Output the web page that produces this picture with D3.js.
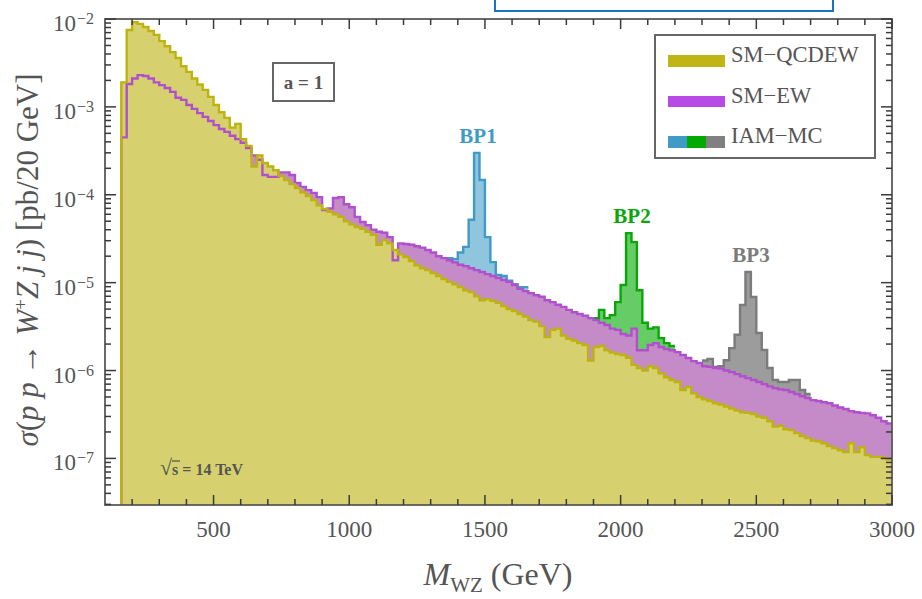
<!DOCTYPE html>
<html>
<head>
<meta charset="utf-8">
<script src="https://cdn.jsdelivr.net/npm/d3@7"></script>
<style>
  body { margin: 0; background: #fff; }
  svg { display: block; }
  text { font-family: "Liberation Serif", "DejaVu Serif", serif; fill: #555; }
</style>
</head>
<body>
<svg id="chart" width="922" height="599"></svg>
<script>
'use strict';

// histogram bins: 20 GeV wide, first bin starts at 160 GeV
var binStart = 160, binWidth = 20;

// SM-QCDEW (pb / 20 GeV), one value per bin, 160 -> 3000 GeV
var smQcdew = [
  1.9e-3, 7.5e-3, 9.2e-3, 8.8e-3, 8.1e-3, 7.3e-3, 6.6e-3, 5.6e-3, 4.9e-3, 4.2e-3,
  3.6e-3, 2.9e-3, 2.5e-3, 2.1e-3, 1.8e-3, 1.56e-3, 1.3e-3, 1.05e-3, 8.7e-4, 7.5e-4,
  5.8e-4, 6.4e-4, 4.3e-4, 3.6e-4, 2.1e-4, 2.8e-4, 2.3e-4, 2.1e-4, 1.9e-4, 1.63e-4,
  1.47e-4, 1.32e-4, 1.19e-4, 1.07e-4, 9.7e-5, 8.7e-5, 7.6e-5, 6.9e-5, 6.4e-5, 6.0e-5,
  5.6e-5, 5.0e-5, 4.6e-5, 4.3e-5, 4.1e-5, 3.8e-5, 3.5e-5, 2.7e-5, 3.05e-5, 2.8e-5,
  2.35e-5, 2.1e-5, 1.95e-5, 1.76e-5, 1.58e-5, 1.46e-5, 1.39e-5, 1.29e-5, 1.19e-5, 1.10e-5,
  1.02e-5, 9.6e-6, 8.9e-6, 8.2e-6, 7.8e-6, 7.0e-6, 6.3e-6, 6.5e-6, 6.2e-6, 5.9e-6,
  5.4e-6, 5.0e-6, 4.75e-6, 4.4e-6, 4.1e-6, 3.75e-6, 3.6e-6, 3.2e-6, 2.4e-6, 2.9e-6,
  3.0e-6, 2.5e-6, 2.3e-6, 2.2e-6, 2.05e-6, 1.95e-6, 1.3e-6, 1.85e-6, 1.9e-6, 1.7e-6,
  1.6e-6, 1.54e-6, 1.5e-6, 1.4e-6, 1.16e-6, 1.07e-6, 1.0e-6, 1.12e-6, 1.07e-6, 9.3e-7,
  8.4e-7, 7.8e-7, 7.4e-7, 6.0e-7, 6.5e-7, 5.5e-7, 5.0e-7, 4.7e-7, 4.5e-7, 4.25e-7,
  4.1e-7, 3.9e-7, 3.7e-7, 3.5e-7, 3.35e-7, 3.3e-7, 3.2e-7, 3.0e-7, 2.9e-7, 2.65e-7,
  2.3e-7, 2.35e-7, 2.15e-7, 2.1e-7, 1.94e-7, 1.8e-7, 1.7e-7, 1.6e-7, 1.57e-7, 1.49e-7,
  1.38e-7, 1.31e-7, 1.24e-7, 1.18e-7, 1.49e-7, 1.18e-7, 1.34e-7, 1.09e-7, 1.04e-7, 1.04e-7,
  1.01e-7, 9.8e-8
];

// SM-EW, same bins
var smEw = [
  4.5e-4, 1.82e-3, 2.1e-3, 2.3e-3, 2.25e-3, 2.1e-3, 1.9e-3, 1.77e-3, 1.64e-3, 1.48e-3,
  1.27e-3, 1.2e-3, 1.05e-3, 9.5e-4, 8.5e-4, 7.7e-4, 6.9e-4, 6.2e-4, 5.6e-4, 5.2e-4,
  4.7e-4, 4.3e-4, 3.9e-4, 3.4e-4, 2.8e-4, 2.5e-4, 1.68e-4, 1.6e-4, 1.6e-4, 1.8e-4,
  1.8e-4, 1.68e-4, 1.36e-4, 1.23e-4, 1.13e-4, 1.05e-4, 9.4e-5, 6.7e-5, 7.0e-5, 9.2e-5,
  9.4e-5, 7.8e-5, 7.2e-5, 5.6e-5, 4.9e-5, 4.5e-5, 4.0e-5, 3.8e-5, 3.7e-5, 3.3e-5,
  1.8e-5, 2.8e-5, 2.75e-5, 2.7e-5, 2.6e-5, 2.5e-5, 2.35e-5, 2.2e-5, 2.0e-5, 1.9e-5,
  1.8e-5, 1.7e-5, 1.6e-5, 1.54e-5, 1.46e-5, 1.39e-5, 1.32e-5, 1.25e-5, 1.19e-5, 1.13e-5,
  1.07e-5, 1.02e-5, 9.4e-6, 8.5e-6, 8.0e-6, 7.6e-6, 7.2e-6, 6.9e-6, 6.3e-6, 6.0e-6,
  5.6e-6, 5.3e-6, 4.9e-6, 4.6e-6, 4.4e-6, 4.2e-6, 3.95e-6, 3.75e-6, 3.5e-6, 3.3e-6,
  3.0e-6, 2.9e-6, 2.6e-6, 2.5e-6, 3.0e-6, 1.7e-6, 1.7e-6, 1.95e-6, 2.05e-6, 1.85e-6,
  1.76e-6, 1.7e-6, 1.62e-6, 1.5e-6, 1.39e-6, 1.28e-6, 1.22e-6, 1.12e-6, 1.1e-6, 1.07e-6,
  1.05e-6, 1.0e-6, 9.6e-7, 9.1e-7, 8.6e-7, 8.2e-7, 7.8e-7, 7.4e-7, 7.0e-7, 6.6e-7,
  6.3e-7, 6.1e-7, 6.0e-7, 5.7e-7, 5.4e-7, 5.1e-7, 4.85e-7, 4.6e-7, 4.5e-7, 4.35e-7,
  4.25e-7, 4.0e-7, 3.8e-7, 3.65e-7, 3.45e-7, 3.35e-7, 3.3e-7, 3.25e-7, 3.1e-7, 2.9e-7,
  2.65e-7, 2.5e-7
];

// IAM-MC benchmark points, around each resonance
var bp1Start = 1360;
var bp1 = [1.9e-5, 1.85e-5, 2.2e-5, 2.55e-5, 5.2e-5, 3.0e-4, 1.47e-4, 3.3e-5, 1.71e-5, 1.22e-5,
           1.19e-5, 1.05e-5, 9.6e-6, 8.9e-6, 8.9e-6];
var bp2Start = 1900;
var bp2 = [3.95e-6, 4.9e-6, 3.95e-6, 4.27e-6, 6.0e-6, 9.4e-6, 3.66e-5, 2.89e-5, 8.2e-6, 3.5e-6,
           3.0e-6, 3.1e-6, 2.34e-6, 2.05e-6, 1.9e-6];
var bp3Start = 2300;
var bp3 = [1.3e-6, 1.35e-6, 1.1e-6, 1.12e-6, 1.31e-6, 1.8e-6, 2.55e-6, 5.56e-6, 1.32e-5, 6.86e-6,
           2.67e-6, 1.71e-6, 1.07e-6, 7.8e-7, 7.4e-7, 7.4e-7, 7.8e-7, 7.8e-7, 6.0e-7, 5.4e-7];

var xTicks = [500, 1000, 1500, 2000, 2500, 3000];
var yTickExp = [-7, -6, -5, -4, -3, -2];
var legendLabels = ["SM\u2212QCDEW", "SM\u2212EW", "IAM\u2212MC"];
var peakLabels = ["BP1", "BP2", "BP3"];

var col = {
  yLine: "#bdb30f", yFill: "#d6d16e",
  pLine: "#b050cc", pFill: "#c58bc9",
  bLine: "#3f9bc6", bFill: "#8fc6de",
  gLine: "#0aa60a", gFill: "#66cc66",
  kLine: "#7b7b7b", kFill: "#9c9c9c"
};

var svg = d3.select('#chart');
var x = d3.scaleLinear().domain([100, 3000]).range([105, 892]);
var y = d3.scaleLog().domain([2.95e-8, 1e-2]).range([505, 19]);
var x0 = x.range()[0], x1 = x.range()[1], yB = y.range()[0], yT = y.range()[1];

function steps(start, vals) {
  var pts = [];
  vals.forEach(function(v, i) {
    var lo = start + i * binWidth;
    pts.push([lo, v], [lo + binWidth, v]);
  });
  return pts;
}
var line = d3.line().x(function(d) { return x(d[0]); }).y(function(d) { return y(d[1]); });
var area = d3.area().x(function(d) { return x(d[0]); }).y0(yB).y1(function(d) { return y(d[1]); });

svg.append('defs').append('clipPath').attr('id', 'plotclip')
  .append('rect').attr('x', x0).attr('y', yT).attr('width', x1 - x0).attr('height', yB - yT);

var plot = svg.append('g').attr('clip-path', 'url(#plotclip)');

var peaks = [
  { start: bp1Start, vals: bp1, line: col.bLine, fill: col.bFill },
  { start: bp2Start, vals: bp2, line: col.gLine, fill: col.gFill },
  { start: bp3Start, vals: bp3, line: col.kLine, fill: col.kFill }
];
var ewPts = steps(binStart, smEw);
var qcdPts = steps(binStart, smQcdew);
var floor = y.domain()[0];
var lw = 2.4;

peaks.forEach(function(p) {
  plot.append('path').attr('d', area(steps(p.start, p.vals))).attr('fill', p.fill);
});
plot.append('path').attr('d', area(ewPts)).attr('fill', col.pFill);
plot.append('path').attr('d', area(qcdPts)).attr('fill', col.yFill);

peaks.forEach(function(p) {
  plot.append('path').attr('d', line(steps(p.start, p.vals)))
    .attr('fill', 'none').attr('stroke', p.line).attr('stroke-width', lw);
});
plot.append('path').attr('d', line([[binStart, floor]].concat(ewPts)))
  .attr('fill', 'none').attr('stroke', col.pLine).attr('stroke-width', lw);
plot.append('path').attr('d', line([[binStart, floor]].concat(qcdPts)))
  .attr('fill', 'none').attr('stroke', col.yLine).attr('stroke-width', lw);

// frame + ticks
var ax = svg.append('g').attr('stroke', '#3a3a3a').attr('fill', 'none').attr('stroke-width', 1.5);
ax.append('rect').attr('x', x0).attr('y', yT).attr('width', x1 - x0).attr('height', yB - yT)
  .attr('stroke', '#5a5a5a').attr('stroke-width', 1.8);

var xMinor = d3.range(200, 3000, 100).filter(function(v) { return v % 500 !== 0; });
xTicks.concat(xMinor).forEach(function(v) {
  var len = v % 500 === 0 ? 10 : 6;
  ax.append('line').attr('x1', x(v)).attr('x2', x(v)).attr('y1', yB).attr('y2', yB - len);
  ax.append('line').attr('x1', x(v)).attr('x2', x(v)).attr('y1', yT).attr('y2', yT + len);
});

var yMinor = [];
[-8, -7, -6, -5, -4, -3].forEach(function(e) {
  for (var k = 2; k <= 9; k++) {
    var v = k * Math.pow(10, e);
    if (v > floor) yMinor.push(v);
  }
});
yTickExp.forEach(function(e) {
  var yy = y(Math.pow(10, e));
  ax.append('line').attr('x1', x0).attr('x2', x0 + 11).attr('y1', yy).attr('y2', yy);
  ax.append('line').attr('x1', x1).attr('x2', x1 - 11).attr('y1', yy).attr('y2', yy);
});
yMinor.forEach(function(v) {
  var yy = y(v);
  ax.append('line').attr('x1', x0).attr('x2', x0 + 6).attr('y1', yy).attr('y2', yy);
  ax.append('line').attr('x1', x1).attr('x2', x1 - 6).attr('y1', yy).attr('y2', yy);
});

// tick labels
xTicks.forEach(function(v) {
  svg.append('text').attr('x', x(v)).attr('y', 537).attr('text-anchor', 'middle')
    .style('font-size', '23px').text(v);
});
yTickExp.forEach(function(e) {
  var yy = y(Math.pow(10, e));
  svg.append('text').attr('x', 76).attr('y', yy + 12).attr('text-anchor', 'end')
    .style('font-size', '23px').text('10');
  svg.append('text').attr('x', 77).attr('y', yy + 5)
    .style('font-size', '16px').text('\u2212' + (-e));
});

// axis titles
var xt = svg.append('text').attr('x', 498).attr('y', 585).attr('text-anchor', 'middle')
  .style('font-size', '32px');
xt.append('tspan').style('font-style', 'italic').text('M');
xt.append('tspan').attr('dy', 7).style('font-size', '21px').text('WZ');
xt.append('tspan').attr('dy', -7).text(' (GeV)');

var yt = svg.append('text').attr('transform', 'translate(38,260) rotate(-90)')
  .attr('text-anchor', 'middle').style('font-size', '31px');
yt.append('tspan').style('font-style', 'italic').text('\u03c3');
yt.append('tspan').text('(');
yt.append('tspan').style('font-style', 'italic').text('p p');
yt.append('tspan').text(' \u2192 ');
yt.append('tspan').style('font-style', 'italic').text('W');
yt.append('tspan').attr('dy', -11).style('font-size', '19px').text('+');
yt.append('tspan').attr('dy', 11).style('font-style', 'italic').text('Z j j');
yt.append('tspan').text(') [pb/20 GeV]');

// a = 1 box
svg.append('rect').attr('x', 273).attr('y', 63).attr('width', 61).attr('height', 38)
  .attr('fill', '#fff').attr('stroke', '#666').attr('stroke-width', 2);
svg.append('text').attr('x', 303.5).attr('y', 89).attr('text-anchor', 'middle')
  .style('font-size', '19px').style('font-weight', 'bold').text('a = 1');

// sqrt(s) note
var sq = svg.append('text').attr('x', 160).attr('y', 475)
  .style('font-size', '16px').style('font-weight', 'bold');
sq.append('tspan').style('font-size', '22px').text('\u221a');
sq.append('tspan').text('s = 14 TeV');
svg.append('line').attr('x1', 172).attr('x2', 180).attr('y1', 461).attr('y2', 461)
  .attr('stroke', '#555').attr('stroke-width', 1.3);

// peak labels
var peakLabelPos = [[478, 143, col.bLine], [632, 223, col.gLine], [751, 262, col.kLine]];
peakLabels.forEach(function(t, i) {
  svg.append('text').attr('x', peakLabelPos[i][0]).attr('y', peakLabelPos[i][1])
    .attr('text-anchor', 'middle').style('font-size', '21px').style('font-weight', 'bold')
    .style('fill', peakLabelPos[i][2]).text(t);
});

// legend
var lg = svg.append('g');
lg.append('rect').attr('x', 655).attr('y', 35).attr('width', 220).attr('height', 123)
  .attr('fill', '#fff').attr('stroke', '#666').attr('stroke-width', 2);
var swY = [55, 96, 136];
lg.append('rect').attr('x', 668).attr('y', swY[0]).attr('width', 57).attr('height', 12).attr('fill', '#c0b514');
lg.append('rect').attr('x', 668).attr('y', swY[1]).attr('width', 57).attr('height', 11).attr('fill', '#b84ae6');
[col.bLine, '#00aa00', '#808080'].forEach(function(c, i) {
  lg.append('rect').attr('x', 668 + i * 19).attr('y', swY[2]).attr('width', 19).attr('height', 12).attr('fill', c);
});
legendLabels.forEach(function(t, i) {
  lg.append('text').attr('x', 731).attr('y', [62, 103, 143][i])
    .style('font-size', '22.5px').text(t);
});

// cropped box at the top edge of the source figure
svg.append('rect').attr('x', 495).attr('y', -20).attr('width', 338).attr('height', 31)
  .attr('fill', 'none').attr('stroke', '#1a72c0').attr('stroke-width', 2);
</script>
</body>
</html>
